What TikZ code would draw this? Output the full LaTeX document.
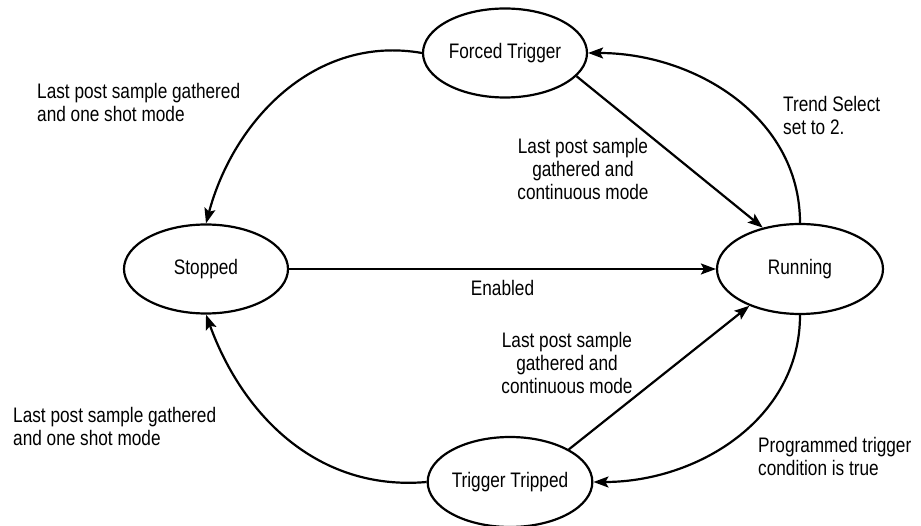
\documentclass[tikz,border=0pt]{standalone}
\usepackage{fontspec}
\setmainfont[FakeStretch=0.82]{Liberation Sans}
\usepackage{tikz}
\usetikzlibrary{arrows.meta,positioning,shapes.geometric}

\begin{document}
\begin{tikzpicture}[x=1pt,y=1pt,font=\fontsize{21}{23}\selectfont,
    statenode/.style={draw,ellipse,line width=2.2pt,inner sep=0pt,minimum width=164pt,minimum height=89pt},
    trans/.style={line width=2.2pt,-{Stealth[length=15pt,width=11pt,inset=3pt]}},
    lbl/.style={inner sep=0pt}]
  \useasboundingbox (0,0) rectangle (921,525);
  \node[statenode] (ft) at (505,472) {Forced Trigger};
  \node[statenode] (stop) at (206,256) {Stopped};
  \node[statenode,minimum width=166pt,minimum height=90pt] (run) at (800,256) {Running};
  \node[statenode,minimum height=90pt] (tt) at (510,43) {Trigger Tripped};
  \draw[trans] (ft.west) to[out=170,in=75] (stop.north);
  \draw[trans] (ft.-18) -- (run.132);
  \draw[trans] (run.north) to[out=90,in=0] (ft.east);
  \draw[trans] (stop.east) -- node[lbl,below=10pt] {Enabled} (run.west);
  \draw[trans] (tt.29) -- (run.-144);
  \draw[trans] (run.south) to[out=-90,in=0] (tt.east);
  \draw[trans] (tt.west) to[out=185,in=-70] (stop.south);
  \node[lbl,anchor=north west,align=left] (oneshotup) at (37,442) {Last post sample gathered\\and one shot mode};
  \node[lbl,anchor=north west,align=left] (oneshotlow) at (13,118) {Last post sample gathered\\and one shot mode};
  \node[lbl,anchor=north,align=center] (contup) at (583,387) {Last post sample\\gathered and\\continuous mode};
  \node[lbl,anchor=north,align=center] (contlow) at (567,193) {Last post sample\\gathered and\\continuous mode};
  \node[lbl,anchor=north west,align=left] (trend) at (783,429) {Trend Select\\set to 2.};
  \node[lbl,anchor=north west,align=left] (prog) at (758,88) {Programmed trigger\\condition is true};
\end{tikzpicture}
\end{document}
